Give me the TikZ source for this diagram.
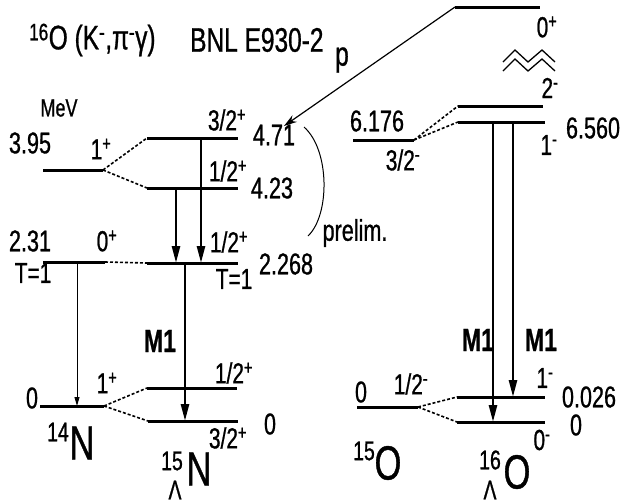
\documentclass[tikz,border=0pt]{standalone}
\usepackage{fontspec}
\setmainfont{Liberation Sans}[FakeStretch=0.72,FakeBold=0.8]
\usetikzlibrary{arrows.meta}
\begin{document}
\begin{tikzpicture}[x=1pt,y=-1pt,inner sep=0pt,font=\fontsize{30}{32}\selectfont]
	\useasboundingbox (0,0)rectangle(622,504);
	\tikzset{lev/.style={line width=3pt},
	mix/.style={line width=1.6pt,dash pattern=on 3pt off 2pt},
	gam/.style={line width=2.6pt,-{Triangle[length=17pt,width=8pt]}},
	spin/.style={font=\fontsize{29}{31}\selectfont},
	tit/.style={font=\fontsize{34}{36}\selectfont},
	nuc/.style={font=\fontsize{48}{50}\selectfont},
	mass/.style={font=\fontsize{27}{29}\selectfont},
	mone/.style={font=\fontsize{32}{34}\selectfont\bfseries}}
	% levels: name/x1/x2/y
	\foreach \n/\a/\b/\y in {Na/43/103/170,Nb/43/105/262,Nc/40/104/406,La/147/238/138,Lb/147/238/188,Lc/147/238/263,Ld/147/237/388,Le/148/238/421,Oa/353/414/140,Ob/357/418/407,Pa/458/543/106,Pb/458/545/122,Pc/457/545/397,Pd/457/545/422,Q/455/540/7}
	\draw[lev](\a,\y)coordinate(\n-l)--(\b,\y)coordinate(\n-r);
	% mixing of core levels
	\foreach \s/\t in {Na-r/La-l,Na-r/Lb-l,Nb-r/Lc-l,Nc-r/Ld-l,Nc-r/Le-l,Oa-r/Pa-l,Oa-r/Pb-l,Ob-r/Pc-l,Ob-r/Pd-l}
	\draw[mix](\s)--(\t);
	% gamma transitions
	\foreach \s/\d/\t in {Lb-l/29/Lc-l,La-l/54/Lc-l,Lc-l/38/Le-l,Pb-l/35/Pd-l,Pb-l/55/Pc-l}
	\draw[gam]([xshift=\d]\s)coordinate(g)--(g|-\t);
	\draw[line width=0.9pt,-{Triangle[length=9pt,width=5pt]}]([xshift=34]Nb-l)coordinate(g)--(g|-Nc-l);
	% proton emission
	\coordinate(ptip)at(284,126);
	\draw[line width=1.2pt,-{Stealth[length=13pt,width=8pt]}](Q-l)--(ptip);
	\foreach \dy in {0,9}
	\draw[line width=1.3pt,line join=miter](503,{62+\dy})--++(12,-12)--++(13,12)--++(14,-12)--++(13,12);
	\draw[line width=1pt](304,127)..controls(330,150)and(330,215)..(308,236);
	% texts
	\path(29,40)node[anchor=west,tit](ti1){\textsuperscript{16}O (K\textsuperscript{-},π\textsuperscript{-}γ)}
	(190,40)node[anchor=west,tit](ti2){BNL E930-2}
	(59,108)node[font=\fontsize{25}{27}\selectfont](mev){MeV};
	\path(30,143)node(e395){3.95}(101,149)node[spin](s1a){1\textsuperscript{+}}
	(227,120)node[spin](s32a){3/2\textsuperscript{+}}(274,135)node(e471){4.71}
	(228,171)node[spin](s12a){1/2\textsuperscript{+}}(272,188)node(e423){4.23}
	(355,233)node(prel){prelim.}
	(30,241)node(e231){2.31}(107,241)node[spin](s0a){0\textsuperscript{+}}(33,273)node[spin](tn){T=1}
	(229,242)node[spin](s12b){1/2\textsuperscript{+}}(286,264)node(e2268){2.268}(234,279)node[spin](tl){T=1}
	(160,341)node[mone](m1a){M1}
	(32,398)node(e0n){0}(107,383)node[spin](s1b){1\textsuperscript{+}}
	(234,373)node[spin](s12c){1/2\textsuperscript{+}}(228,438)node[spin](s32b){3/2\textsuperscript{+}}(270,424)node(e0l){0};
	\path(342,60)node[font=\fontsize{34}{36}\selectfont](pl){p}
	(547,27)node[spin](s0q){0\textsuperscript{+}}(550,88)node[spin](s2m){2\textsuperscript{-}}
	(377,121)node(e6176){6.176}(403,160)node[spin](s32m){3/2\textsuperscript{-}}
	(549,145)node[spin](s1m){1\textsuperscript{-}}(593,128)node(e6560){6.560}
	(478,340)node[mone](m1b){M1}(541,340)node[mone](m1c){M1}
	(361,392)node(e0o){0}(411,384)node[spin](s12m){1/2\textsuperscript{-}}
	(545,378)node[spin](s1n){1\textsuperscript{-}}(589,397)node(e026){0.026}
	(542,440)node[spin](s0m){0\textsuperscript{-}}(576,425)node(e0p){0};
	% nuclides
	\path(82,443)node[nuc](N14){N}(58,432)node[mass](a14){14}
	(199,469)node[nuc](N15){N}(172,461)node[mass](a15){15}(175,490)node[mass](h15){Λ}
	(388,463)node[nuc](O15){O}(364,451)node[mass](a15o){15}
	(517,472)node[nuc](O16){O}(490,460)node[mass](a16){16}(490,490)node[mass](h16){Λ};
\end{tikzpicture}
\end{document}
